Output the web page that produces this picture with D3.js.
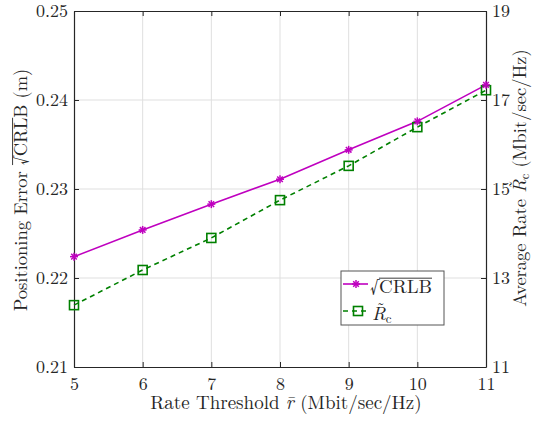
<!DOCTYPE html>
<html>
<head>
<script src="https://d3js.org/d3.v7.min.js"></script>
<style>
 body {margin:0;background:#fff;}
 svg {display:block;}
</style>
</head>
<body>
<div id="chart"></div>
<script>
// data
var thresholds = [5, 6, 7, 8, 9, 10, 11];
var crlb = [0.2224, 0.2254, 0.2283, 0.2311, 0.2344, 0.2376, 0.2417];
var rate = [12.39, 13.18, 13.90, 14.75, 15.52, 16.39, 17.22];
var xTicks = [5, 6, 7, 8, 9, 10, 11];
var yLeftTicks = [0.21, 0.22, 0.23, 0.24, 0.25];
var yRightTicks = [11, 13, 15, 17, 19];

var width = 533, height = 423;
var m = {left: 74, right: 47, top: 11, bottom: 56};
var w = width - m.left - m.right, h = height - m.top - m.bottom;
var magenta = "#bf00bf", green = "#008000", axisCol = "#262626";
var FONT = "'Latin Modern Roman','Liberation Serif',serif";

var svg = d3.select("#chart").append("svg").attr("width", width).attr("height", height);
var g = svg.append("g").attr("transform", "translate(" + m.left + "," + m.top + ")");

var x = d3.scaleLinear().domain([5, 11]).range([0, w]);
var yL = d3.scaleLinear().domain([0.21, 0.25]).range([h, 0]);
var yR = d3.scaleLinear().domain([11, 19]).range([h, 0]);

// grid
g.append("g").selectAll("line").data(xTicks.slice(1, -1)).enter().append("line")
 .attr("x1", d => x(d)).attr("x2", d => x(d)).attr("y1", 0).attr("y2", h)
 .attr("stroke", "#dfdfdf").attr("stroke-width", 1);
g.append("g").selectAll("line").data(yLeftTicks.slice(1, -1)).enter().append("line")
 .attr("y1", d => yL(d)).attr("y2", d => yL(d)).attr("x1", 0).attr("x2", w)
 .attr("stroke", "#dfdfdf").attr("stroke-width", 1);

// axes
function styleAxis(sel) {
  sel.attr("font-family", null).attr("font-size", null);
  sel.select(".domain").attr("stroke", axisCol).attr("stroke-width", 1.2);
  sel.selectAll(".tick line").attr("stroke", axisCol);
  sel.selectAll(".tick text").style("font-family", FONT).style("font-size", "18px").attr("fill", axisCol);
}
g.append("g").attr("transform", "translate(0," + h + ")")
 .call(d3.axisBottom(x).tickValues(xTicks).tickFormat(d3.format("d")).tickSizeInner(-5).tickSizeOuter(0).tickPadding(10))
 .call(styleAxis);
g.append("g")
 .call(d3.axisTop(x).tickValues(xTicks).tickFormat("").tickSizeInner(-5).tickSizeOuter(0))
 .call(styleAxis);
g.append("g")
 .call(d3.axisLeft(yL).tickValues(yLeftTicks).tickFormat(d3.format(".2f")).tickSizeInner(-5).tickSizeOuter(0).tickPadding(6))
 .call(styleAxis);
g.append("g").attr("transform", "translate(" + w + ",0)")
 .call(d3.axisRight(yR).tickValues(yRightTicks).tickFormat(d3.format("d")).tickSizeInner(-5).tickSizeOuter(0).tickPadding(6))
 .call(styleAxis);

// lines
var lineL = d3.line().x((d, i) => x(thresholds[i])).y(d => yL(d));
var lineR = d3.line().x((d, i) => x(thresholds[i])).y(d => yR(d));

g.append("path").datum(rate).attr("d", lineR).attr("fill", "none")
 .attr("stroke", green).attr("stroke-width", 1.6).attr("stroke-dasharray", "5,4");
g.append("path").datum(crlb).attr("d", lineL).attr("fill", "none")
 .attr("stroke", magenta).attr("stroke-width", 1.6);

function star(sel, col) {
  var s = 4;
  sel.append("line").attr("x1", -s).attr("x2", s).attr("y1", 0).attr("y2", 0);
  sel.append("line").attr("y1", -s).attr("y2", s).attr("x1", 0).attr("x2", 0);
  sel.append("line").attr("x1", -s * 0.7).attr("x2", s * 0.7).attr("y1", -s * 0.7).attr("y2", s * 0.7);
  sel.append("line").attr("x1", -s * 0.7).attr("x2", s * 0.7).attr("y1", s * 0.7).attr("y2", -s * 0.7);
  sel.selectAll("line").attr("stroke", col).attr("stroke-width", 1.5);
}
function square(sel, col) {
  sel.append("rect").attr("x", -4.5).attr("y", -4.5).attr("width", 9).attr("height", 9)
   .attr("fill", "none").attr("stroke", col).attr("stroke-width", 1.6);
}

g.selectAll(".mr").data(rate).enter().append("g")
 .attr("transform", (d, i) => "translate(" + x(thresholds[i]) + "," + yR(d) + ")")
 .each(function () { square(d3.select(this), green); });
g.selectAll(".mc").data(crlb).enter().append("g")
 .attr("transform", (d, i) => "translate(" + x(thresholds[i]) + "," + yL(d) + ")")
 .each(function () { star(d3.select(this), magenta); });

// math helpers: overline over the radicand, tilde over R
function overline(parent, text, i0, i1, fs) {
  var node = text.node();
  var a = node.getStartPositionOfChar(i0), b = node.getEndPositionOfChar(i1);
  parent.append("line").attr("x1", a.x).attr("x2", b.x)
   .attr("y1", a.y - fs * 0.78).attr("y2", a.y - fs * 0.78)
   .attr("stroke", axisCol).attr("stroke-width", 0.9);
}
function tilde(parent, text, i, fs) {
  var node = text.node();
  var a = node.getStartPositionOfChar(i), b = node.getEndPositionOfChar(i);
  parent.append("text").attr("x", (a.x + b.x) / 2 + fs * 0.1).attr("y", a.y - fs * 0.33)
   .attr("text-anchor", "middle").style("font-family", FONT).style("font-size", fs * 0.85 + "px")
   .attr("fill", axisCol).text("\u02DC");
}

// legend
var lg = svg.append("g").attr("transform", "translate(341,271)");
lg.append("rect").attr("width", 103).attr("height", 54).attr("fill", "#fff")
 .attr("stroke", "#555").attr("stroke-width", 1);
lg.append("line").attr("x1", 2).attr("x2", 27).attr("y1", 13).attr("y2", 13)
 .attr("stroke", magenta).attr("stroke-width", 1.6);
star(lg.append("g").attr("transform", "translate(15,13)"), magenta);
lg.append("line").attr("x1", 2).attr("x2", 27).attr("y1", 40).attr("y2", 40)
 .attr("stroke", green).attr("stroke-width", 1.6).attr("stroke-dasharray", "5,4");
square(lg.append("g").attr("transform", "translate(17,40)"), green);
var t1 = lg.append("text").attr("x", 29).attr("y", 22).style("font-family", FONT).style("font-size", "19px").attr("fill", axisCol);
t1.append("tspan").text("\u221ACRLB");
overline(lg, t1, 1, 4, 19);
var t2 = lg.append("text").attr("x", 31).attr("y", 49).style("font-family", FONT).style("font-size", "19px").attr("fill", axisCol);
t2.append("tspan").attr("font-style", "italic").text("R");
t2.append("tspan").attr("dy", 3).style("font-size", "13px").text("c");
tilde(lg, t2, 0, 19);

// axis labels
function label(t, fs) {
  return t.style("font-family", FONT).style("font-size", fs + "px").attr("fill", axisCol).attr("text-anchor", "middle");
}
var xl = label(svg.append("text").attr("x", 286).attr("y", 409), 19);
xl.append("tspan").text("Rate Threshold ");
xl.append("tspan").attr("font-style", "italic").text("r\u0304");
xl.append("tspan").text(" (Mbit/sec/Hz)");

var ylg = svg.append("g").attr("transform", "translate(27,190) rotate(-90)");
var yl = label(ylg.append("text"), 18.5);
yl.append("tspan").text("Positioning Error \u221ACRLB (m)");
overline(ylg, yl, 18, 21, 18.5);

var yrg = svg.append("g").attr("transform", "translate(526,178) rotate(-90)");
var yr = label(yrg.append("text"), 18.5);
yr.append("tspan").text("Average Rate ");
yr.append("tspan").attr("font-style", "italic").text("R");
yr.append("tspan").attr("dy", 3).style("font-size", "12.5px").text("c");
yr.append("tspan").attr("dy", -3).text(" (Mbit/sec/Hz)");
tilde(yrg, yr, 13, 18.5);
</script>
</body>
</html>
